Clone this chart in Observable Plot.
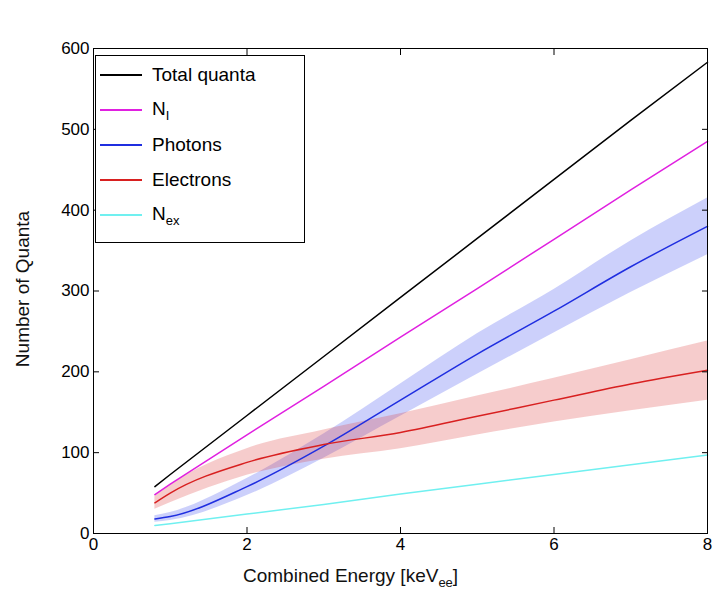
<!DOCTYPE html>
<html><head><meta charset="utf-8">
<script src="https://cdn.jsdelivr.net/npm/d3@7"></script>
<script src="https://cdn.jsdelivr.net/npm/@observablehq/plot@0.6"></script>
<style>
body{margin:0;background:#fff;font-family:"Liberation Sans",Arial,sans-serif}
#wrap{position:relative;width:720px;height:605px}
.lab{position:absolute;font-size:19px;color:#111}
#legend{position:absolute;left:95px;top:55px;width:208px;height:186px;border:1px solid #000;background:#fff;font-size:19px}
.row{position:absolute;left:4px;height:22px;display:flex;align-items:center}
.sw{width:42px;height:2px;margin-right:10px}
sub{font-size:13px}
</style></head><body>
<div id="wrap"></div>
<script>
const energy = [0.8, 1, 2, 3, 4, 5, 6, 7, 8];
const xTicks = [0, 2, 4, 6, 8];
const yTicks = [0, 100, 200, 300, 400, 500, 600];
const total = [58, 73, 146, 219, 292, 365, 438, 511, 583];
const nI = [48, 61, 122, 182, 243, 303, 364, 425, 485];
const photons = [18, 21, 58, 108, 165, 222, 275, 330, 380];
const photonsLo = [14, 16, 47, 93, 145, 197, 248, 298, 345];
const photonsHi = [22, 26, 68, 123, 185, 247, 302, 362, 415];
const electrons = [38, 50, 88, 110, 125, 145, 165, 185, 202];
const electronsLo = [30, 38, 72, 92, 105, 122, 138, 152, 165];
const electronsHi = [46, 60, 105, 128, 148, 170, 192, 215, 238];
const nEx = [10, 12, 24, 36, 49, 61, 73, 85, 97];

const rows = energy.map((x, i) => ({x, total: total[i], nI: nI[i], ph: photons[i], phLo: photonsLo[i], phHi: photonsHi[i],
  el: electrons[i], elLo: electronsLo[i], elHi: electronsHi[i], nEx: nEx[i]}));

const chart = Plot.plot({
  width: 720, height: 605,
  marginLeft: 93, marginRight: 13, marginTop: 48, marginBottom: 72,
  style: {fontFamily: "Liberation Sans, Arial, sans-serif", fontSize: "17px", color: "#000"},
  x: {domain: [0, 8]},
  y: {domain: [0, 600]},
  marks: [
    Plot.areaY(rows, {x: "x", y1: "phLo", y2: "phHi", fill: "#3344ee", fillOpacity: 0.25, curve: "monotone-x"}),
    Plot.areaY(rows, {x: "x", y1: "elLo", y2: "elHi", fill: "#dd3333", fillOpacity: 0.25, curve: "monotone-x"}),
    Plot.line(rows, {x: "x", y: "total", stroke: "#000", strokeWidth: 1.5}),
    Plot.line(rows, {x: "x", y: "nI", stroke: "#e020e0", strokeWidth: 1.5}),
    Plot.line(rows, {x: "x", y: "ph", stroke: "#1f2ee0", strokeWidth: 1.5, curve: "monotone-x"}),
    Plot.line(rows, {x: "x", y: "el", stroke: "#d82020", strokeWidth: 1.5, curve: "monotone-x"}),
    Plot.line(rows, {x: "x", y: "nEx", stroke: "#70f0f0", strokeWidth: 1.5}),
    Plot.frame({stroke: "#000"}),
    Plot.axisX(xTicks, {tickSize: -6, label: null, tickPadding: 10}),
    Plot.axisY(yTicks, {tickSize: -6, label: null, tickPadding: 10}),
    Plot.axisX(xTicks, {anchor: "top", tickSize: -6, label: null, tickFormat: () => ""}),
    Plot.axisY(yTicks, {anchor: "right", tickSize: -6, label: null, tickFormat: () => ""})
  ]
});
const wrap = document.getElementById("wrap");
wrap.append(chart);
wrap.insertAdjacentHTML("beforeend", `
<div class="lab" style="left:243px;top:565px">Combined Energy [keV<sub>ee</sub>]</div>
<div class="lab" style="left:-62px;top:278px;transform:rotate(-90deg);width:170px;text-align:center">Number of Quanta</div>
<div id="legend"></div>`);
const items = [["Total quanta", "#000"], ["N<sub>I</sub>", "#e020e0"], ["Photons", "#1f2ee0"], ["Electrons", "#d82020"], ["N<sub>ex</sub>", "#70f0f0"]];
const lg = document.getElementById("legend");
items.forEach(([t, c], i) => lg.insertAdjacentHTML("beforeend",
  `<div class="row" style="top:${8 + i * 35}px"><div class="sw" style="background:${c}"></div><span>${t}</span></div>`));
</script>
</body></html>
